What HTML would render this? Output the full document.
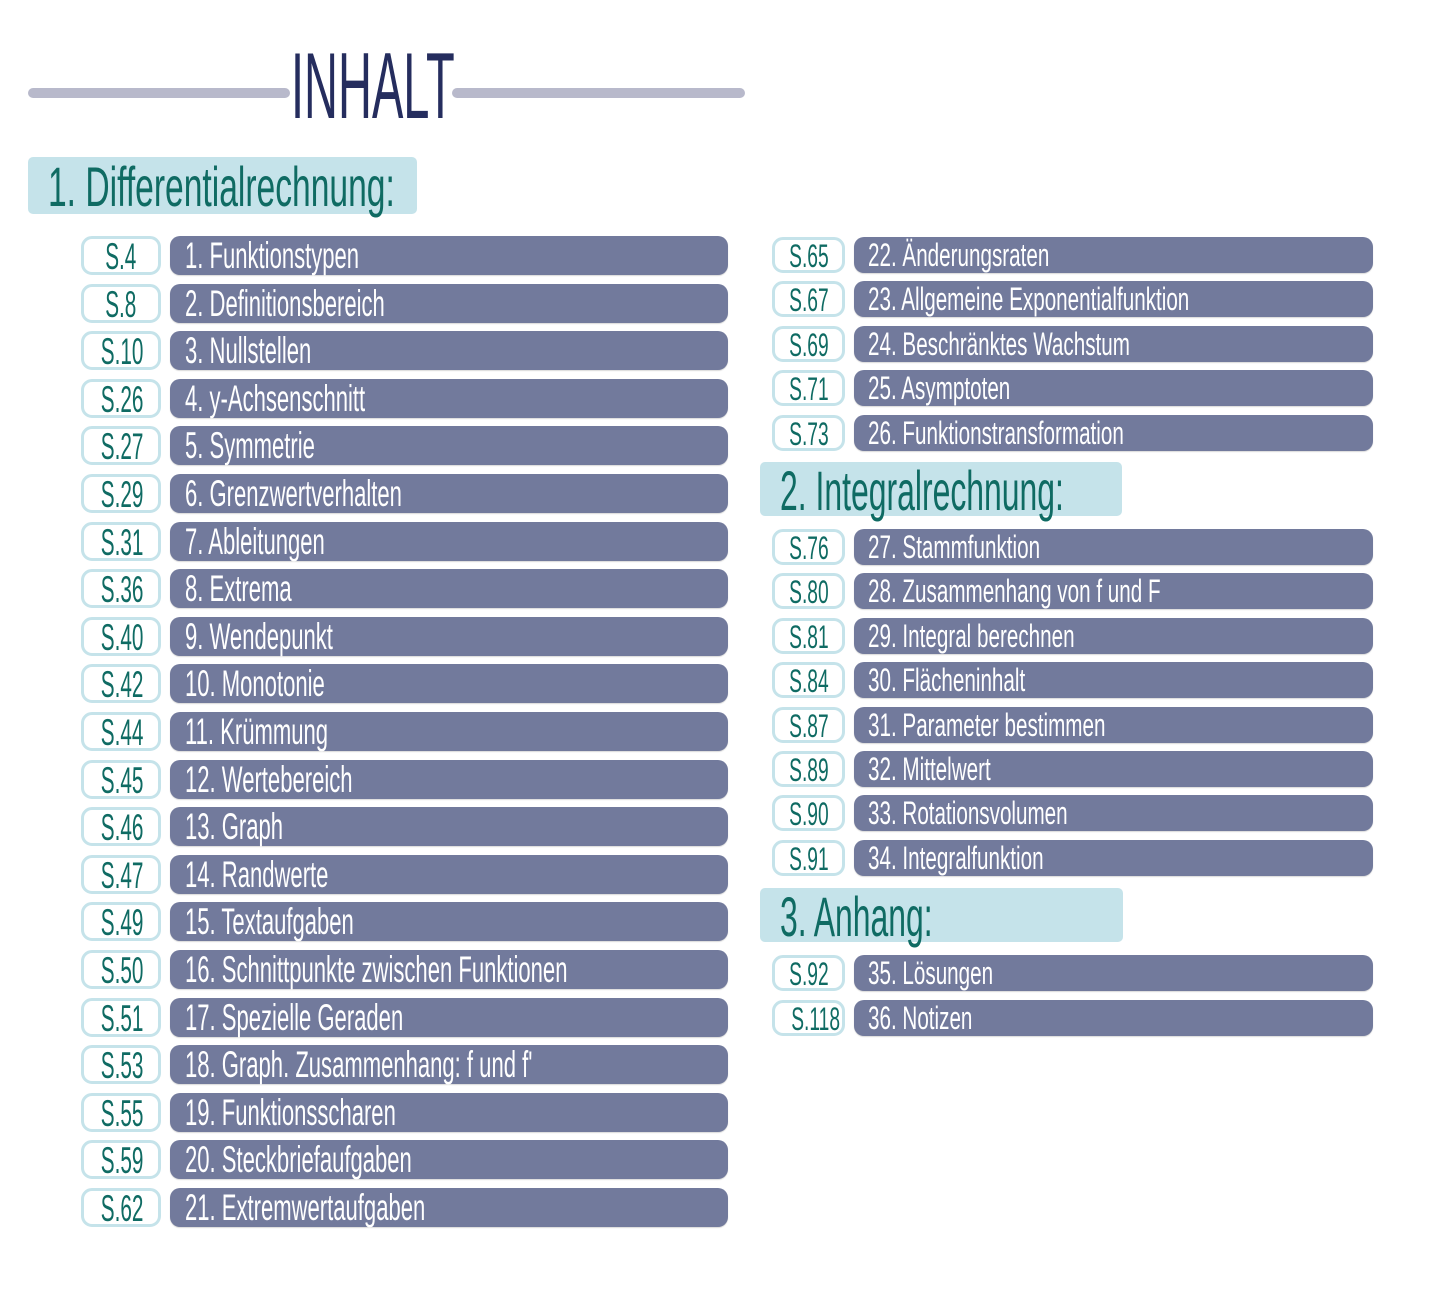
<!DOCTYPE html>
<html><head><meta charset="utf-8"><style>
body{margin:0;background:#fff;width:1445px;height:1296px;position:relative;overflow:hidden;font-family:"Liberation Sans",sans-serif;}
.a{position:absolute}
.ln{position:absolute;height:10px;background:#b8b9cb;border-radius:5px;top:88px}
.t{display:inline-block;white-space:nowrap;transform-origin:0 0}
.hd{position:absolute;background:#c5e3ea;border-radius:5px;color:#0f6b63;font-size:56px;line-height:56px}
.hd .t{transform:scaleX(0.6)}
.hd.r .t{transform:scaleX(0.57)}
.L .p,.L .b,.R .p,.R .b{position:absolute}
.p{background:#fff;border:3px solid #c5e3ea;border-radius:11px;box-sizing:border-box;color:#0f6b63;text-align:center;overflow:visible}
.b{background:#727a9c;border-radius:10px;color:#fff;box-shadow:0 1px 1px rgba(0,0,0,.15)}
.L .p{left:81px;width:80px;height:39px;font-size:37px;line-height:36px}
.L .b{left:170px;width:558px;height:39px;font-size:37px;line-height:40px}
.L .b .t{transform:scaleX(0.596);margin-left:15px}
.L .p .t{transform:scaleX(0.56)}
.R .p{left:772px;width:73px;height:36px;font-size:32px;line-height:33px}
.R .b{left:854px;width:519px;height:36px;font-size:32px;line-height:37px}
.R .b .t{transform:scaleX(0.645);margin-left:14px}
.R .p .t{transform:scaleX(0.6)}
.pc{display:block;width:100%;text-align:center}
.pc .t{transform-origin:50% 0}
</style></head><body>
<div class="ln" style="left:28px;width:262px"></div>
<div class="ln" style="left:452px;width:293px"></div>
<div class="a" style="left:291px;top:36px;font-size:94px;line-height:100px;color:#252d5e"><span class="t" style="transform:scaleX(0.5)">INHALT</span></div>

<div class="hd" style="left:28px;top:157px;width:389px;height:57px"><span class="t" style="margin-left:20px;margin-top:2px">1. Differentialrechnung:</span></div>
<div class="hd r" style="left:760px;top:462px;width:362px;height:54px"><span class="t" style="margin-left:20px;margin-top:1px">2. Integralrechnung:</span></div>
<div class="hd r" style="left:760px;top:888px;width:363px;height:54px"><span class="t" style="margin-left:20px;margin-top:1px">3. Anhang:</span></div>

<div class="L">
<div class="p" style="top:236px"><span class="pc"><span class="t">S.4</span></span></div><div class="b" style="top:236px"><span class="t">1. Funktionstypen</span></div>
<div class="p" style="top:283.6px"><span class="pc"><span class="t">S.8</span></span></div><div class="b" style="top:283.6px"><span class="t">2. Definitionsbereich</span></div>
<div class="p" style="top:331.2px"><span class="pc"><span class="t">S.10</span></span></div><div class="b" style="top:331.2px"><span class="t">3. Nullstellen</span></div>
<div class="p" style="top:378.8px"><span class="pc"><span class="t">S.26</span></span></div><div class="b" style="top:378.8px"><span class="t">4. y-Achsenschnitt</span></div>
<div class="p" style="top:426.4px"><span class="pc"><span class="t">S.27</span></span></div><div class="b" style="top:426.4px"><span class="t">5. Symmetrie</span></div>
<div class="p" style="top:474px"><span class="pc"><span class="t">S.29</span></span></div><div class="b" style="top:474px"><span class="t">6. Grenzwertverhalten</span></div>
<div class="p" style="top:521.6px"><span class="pc"><span class="t">S.31</span></span></div><div class="b" style="top:521.6px"><span class="t">7. Ableitungen</span></div>
<div class="p" style="top:569.2px"><span class="pc"><span class="t">S.36</span></span></div><div class="b" style="top:569.2px"><span class="t">8. Extrema</span></div>
<div class="p" style="top:616.8px"><span class="pc"><span class="t">S.40</span></span></div><div class="b" style="top:616.8px"><span class="t">9. Wendepunkt</span></div>
<div class="p" style="top:664.4px"><span class="pc"><span class="t">S.42</span></span></div><div class="b" style="top:664.4px"><span class="t">10. Monotonie</span></div>
<div class="p" style="top:712px"><span class="pc"><span class="t">S.44</span></span></div><div class="b" style="top:712px"><span class="t">11. Krümmung</span></div>
<div class="p" style="top:759.6px"><span class="pc"><span class="t">S.45</span></span></div><div class="b" style="top:759.6px"><span class="t">12. Wertebereich</span></div>
<div class="p" style="top:807.2px"><span class="pc"><span class="t">S.46</span></span></div><div class="b" style="top:807.2px"><span class="t">13. Graph</span></div>
<div class="p" style="top:854.8px"><span class="pc"><span class="t">S.47</span></span></div><div class="b" style="top:854.8px"><span class="t">14. Randwerte</span></div>
<div class="p" style="top:902.4px"><span class="pc"><span class="t">S.49</span></span></div><div class="b" style="top:902.4px"><span class="t">15. Textaufgaben</span></div>
<div class="p" style="top:950px"><span class="pc"><span class="t">S.50</span></span></div><div class="b" style="top:950px"><span class="t">16. Schnittpunkte zwischen Funktionen</span></div>
<div class="p" style="top:997.6px"><span class="pc"><span class="t">S.51</span></span></div><div class="b" style="top:997.6px"><span class="t">17. Spezielle Geraden</span></div>
<div class="p" style="top:1045.2px"><span class="pc"><span class="t">S.53</span></span></div><div class="b" style="top:1045.2px"><span class="t">18. Graph. Zusammenhang: f und f'</span></div>
<div class="p" style="top:1092.8px"><span class="pc"><span class="t">S.55</span></span></div><div class="b" style="top:1092.8px"><span class="t">19. Funktionsscharen</span></div>
<div class="p" style="top:1140.4px"><span class="pc"><span class="t">S.59</span></span></div><div class="b" style="top:1140.4px"><span class="t">20. Steckbriefaufgaben</span></div>
<div class="p" style="top:1188px"><span class="pc"><span class="t">S.62</span></span></div><div class="b" style="top:1188px"><span class="t">21. Extremwertaufgaben</span></div>
</div>

<div class="R">
<div class="p" style="top:237px"><span class="pc"><span class="t">S.65</span></span></div><div class="b" style="top:237px"><span class="t">22. Änderungsraten</span></div>
<div class="p" style="top:281.4px"><span class="pc"><span class="t">S.67</span></span></div><div class="b" style="top:281.4px"><span class="t">23. Allgemeine Exponentialfunktion</span></div>
<div class="p" style="top:325.8px"><span class="pc"><span class="t">S.69</span></span></div><div class="b" style="top:325.8px"><span class="t">24. Beschränktes Wachstum</span></div>
<div class="p" style="top:370.2px"><span class="pc"><span class="t">S.71</span></span></div><div class="b" style="top:370.2px"><span class="t">25. Asymptoten</span></div>
<div class="p" style="top:414.6px"><span class="pc"><span class="t">S.73</span></span></div><div class="b" style="top:414.6px"><span class="t">26. Funktionstransformation</span></div>
<div class="p" style="top:529px"><span class="pc"><span class="t">S.76</span></span></div><div class="b" style="top:529px"><span class="t">27. Stammfunktion</span></div>
<div class="p" style="top:573.4px"><span class="pc"><span class="t">S.80</span></span></div><div class="b" style="top:573.4px"><span class="t">28. Zusammenhang von f und F</span></div>
<div class="p" style="top:617.8px"><span class="pc"><span class="t">S.81</span></span></div><div class="b" style="top:617.8px"><span class="t">29. Integral berechnen</span></div>
<div class="p" style="top:662.2px"><span class="pc"><span class="t">S.84</span></span></div><div class="b" style="top:662.2px"><span class="t">30. Flächeninhalt</span></div>
<div class="p" style="top:706.6px"><span class="pc"><span class="t">S.87</span></span></div><div class="b" style="top:706.6px"><span class="t">31. Parameter bestimmen</span></div>
<div class="p" style="top:751px"><span class="pc"><span class="t">S.89</span></span></div><div class="b" style="top:751px"><span class="t">32. Mittelwert</span></div>
<div class="p" style="top:795.4px"><span class="pc"><span class="t">S.90</span></span></div><div class="b" style="top:795.4px"><span class="t">33. Rotationsvolumen</span></div>
<div class="p" style="top:839.8px"><span class="pc"><span class="t">S.91</span></span></div><div class="b" style="top:839.8px"><span class="t">34. Integralfunktion</span></div>
<div class="p" style="top:955px"><span class="pc"><span class="t">S.92</span></span></div><div class="b" style="top:955px"><span class="t">35. Lösungen</span></div>
<div class="p" style="top:1000px"><span class="pc"><span class="t">S.118</span></span></div><div class="b" style="top:1000px"><span class="t">36. Notizen</span></div>
</div>
</body></html>
